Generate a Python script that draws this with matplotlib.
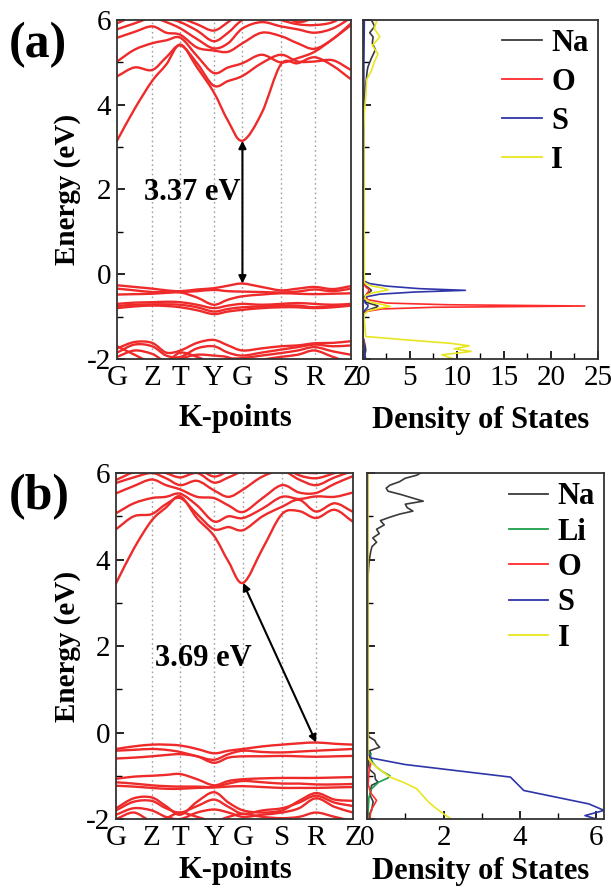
import numpy as np
import matplotlib
matplotlib.use("Agg")
import matplotlib.pyplot as plt
from matplotlib.path import Path
from matplotlib.patches import PathPatch
from matplotlib.ticker import MultipleLocator

plt.rcParams["font.family"] = ["Liberation Serif", "DejaVu Serif"]
plt.rcParams["axes.unicode_minus"] = False

BAND_RED = "#ee2a2a"
COLORS = {"Na": "#3a3a3a", "Li": "#1f9e49", "O": "#ff2b2b", "S": "#2e35a8", "I": "#e8e620"}

# high-symmetry path
K_LABELS = ["G", "Z", "T", "Y", "G", "S", "R", "Z"]
K_NODES = [0.0, 0.150, 0.271, 0.413, 0.536, 0.700, 0.844, 1.0]

# band energies (eV) at each node and the midpoint between nodes
# (a) conduction bands
ca1 = [3.15, 3.90, 4.56, 4.95, 5.42, 4.88, 4.30, 3.62, 3.15, 3.80, 4.95, 4.98, 5.12, 4.92, 4.60]
ca2 = [4.67, 4.88, 4.82, 5.12, 5.40, 4.98, 4.45, 4.56, 4.68, 4.98, 5.18, 5.02, 5.02, 5.05, 4.82]
ca3 = [5.02, 5.30, 5.45, 5.52, 5.58, 5.15, 4.75, 4.88, 4.98, 5.18, 5.00, 5.10, 5.25, 5.55, 5.88]
ca4 = [5.58, 5.72, 5.85, 5.70, 5.65, 5.35, 5.28, 5.25, 5.45, 5.70, 5.62, 5.45, 5.32, 5.55, 5.92]
ca5 = [5.78, 5.92, 6.05, 5.95, 5.80, 5.55, 5.33, 5.45, 5.80, 5.95, 5.85, 5.78, 5.70, 5.80, 6.05]
ca6 = [5.92, 6.10, 6.20, 6.05, 5.95, 5.75, 5.50, 5.70, 6.00, 6.15, 6.00, 5.90, 5.88, 5.95, 6.20]
ca7 = [6.10, 6.25, 6.30, 6.15, 6.05, 5.90, 5.75, 5.95, 6.20, 6.30, 6.15, 5.95, 6.05, 6.15, 6.30]
# (a) valence bands
va1 = [-0.26, -0.30, -0.34, -0.38, -0.40, -0.36, -0.33, -0.27, -0.22, -0.30, -0.38, -0.34, -0.30, -0.35, -0.28]
va2 = [-0.34, -0.38, -0.42, -0.42, -0.42, -0.40, -0.37, -0.40, -0.41, -0.42, -0.43, -0.41, -0.36, -0.40, -0.34]
va3 = [-0.48, -0.47, -0.46, -0.44, -0.43, -0.55, -0.72, -0.60, -0.52, -0.48, -0.45, -0.46, -0.47, -0.46, -0.45]
va4 = [-0.70, -0.67, -0.66, -0.65, -0.66, -0.72, -0.80, -0.74, -0.70, -0.72, -0.70, -0.68, -0.70, -0.72, -0.70]
va5 = [-0.75, -0.72, -0.71, -0.71, -0.72, -0.78, -0.88, -0.82, -0.78, -0.76, -0.74, -0.74, -0.78, -0.75, -0.72]
va6 = [-0.80, -0.76, -0.74, -0.75, -0.78, -0.85, -0.94, -0.88, -0.84, -0.80, -0.78, -0.78, -0.80, -0.78, -0.74]
la1 = [-1.75, -1.60, -1.62, -1.85, -1.80, -1.62, -1.55, -1.68, -1.80, -1.75, -1.70, -1.68, -1.63, -1.62, -1.58]
la2 = [-1.85, -1.66, -1.70, -1.92, -1.95, -1.75, -1.70, -1.85, -1.92, -1.85, -1.78, -1.72, -1.66, -1.70, -1.68]
la3 = [-1.95, -1.80, -1.88, -2.05, -1.85, -1.95, -2.10, -2.00, -1.98, -1.92, -1.86, -1.80, -1.72, -1.82, -1.90]
la4 = [-1.70, -1.90, -2.10, -2.20, -2.00, -1.90, -1.92, -1.96, -2.10, -2.02, -1.95, -1.90, -1.80, -1.95, -2.10]

# (b) conduction bands
cb1 = [3.45, 4.25, 4.90, 5.20, 5.46, 4.95, 4.55, 3.95, 3.46, 4.25, 5.05, 5.12, 4.96, 5.15, 4.87]
cb2 = [4.70, 5.00, 5.05, 5.28, 5.42, 5.05, 4.70, 4.75, 4.68, 5.00, 5.22, 5.38, 5.11, 5.30, 5.10]
cb3 = [5.07, 5.30, 5.42, 5.45, 5.52, 5.25, 4.88, 5.00, 4.96, 5.18, 5.45, 5.40, 5.46, 5.45, 5.55]
cb4 = [5.53, 5.70, 5.85, 5.72, 5.62, 5.45, 5.42, 5.25, 5.10, 5.42, 5.72, 5.55, 5.54, 5.75, 5.93]
cb5 = [5.77, 5.90, 6.00, 5.88, 5.72, 5.82, 5.60, 5.45, 5.62, 5.92, 6.05, 5.85, 5.72, 5.90, 6.05]
cb6 = [5.84, 6.02, 6.10, 6.00, 5.90, 6.00, 5.78, 5.90, 6.05, 6.20, 6.15, 5.95, 5.88, 6.00, 6.15]
cb7 = [6.05, 6.20, 6.25, 6.15, 6.05, 6.10, 5.92, 6.05, 6.20, 6.30, 6.25, 6.05, 6.00, 6.10, 6.25]
# (b) valence bands
vb1 = [-0.38, -0.32, -0.28, -0.28, -0.30, -0.38, -0.48, -0.42, -0.38, -0.32, -0.28, -0.25, -0.23, -0.26, -0.28]
vb2 = [-0.42, -0.40, -0.38, -0.40, -0.45, -0.55, -0.63, -0.50, -0.42, -0.45, -0.46, -0.44, -0.42, -0.40, -0.38]
vb3 = [-0.60, -0.58, -0.55, -0.52, -0.50, -0.55, -0.70, -0.58, -0.55, -0.55, -0.54, -0.55, -0.56, -0.55, -0.54]
vb4 = [-1.07, -1.02, -1.00, -0.98, -0.96, -1.08, -1.22, -1.12, -1.08, -1.06, -1.05, -1.05, -1.05, -1.04, -1.03]
vb5 = [-1.15, -1.18, -1.22, -1.24, -1.25, -1.25, -1.26, -1.18, -1.12, -1.15, -1.18, -1.18, -1.20, -1.20, -1.19]
vb6 = [-1.23, -1.25, -1.28, -1.30, -1.30, -1.28, -1.27, -1.25, -1.24, -1.26, -1.28, -1.28, -1.28, -1.27, -1.26]
lb1 = [-1.75, -1.52, -1.50, -1.70, -1.90, -1.60, -1.38, -1.62, -1.80, -1.85, -1.80, -1.58, -1.40, -1.55, -1.58]
lb2 = [-1.80, -1.60, -1.58, -1.75, -1.85, -1.70, -1.55, -1.72, -1.88, -1.80, -1.75, -1.62, -1.46, -1.62, -1.70]
lb3 = [-1.90, -1.75, -1.80, -1.95, -2.00, -1.85, -1.78, -1.85, -1.95, -1.90, -1.85, -1.75, -1.52, -1.72, -1.85]
lb4 = [-2.00, -1.85, -2.05, -1.98, -1.85, -1.95, -2.05, -1.95, -1.88, -1.95, -1.98, -1.95, -1.85, -1.95, -2.05]

# partial DOS, panel (a): energies (eV) and states
na_a_e = [-2.0, -1.9, -1.8, -1.7, -1.6, -1.5, -0.95, -0.85, -0.78, -0.75, -0.72, -0.66, -0.55, -0.45, -0.41,
          -0.38, -0.34, -0.26, -0.15, 3.4, 3.8, 4.2, 4.4, 4.6, 4.8, 4.9, 5.1, 5.3, 5.45, 5.6, 5.7, 5.85, 6.0]
na_a = [0.3, 0.2, 0.3, 0.25, 0.15, 0.02, 0.05, 0.5, 1.4, 1.6, 1.2, 0.3, 0.1, 0.5, 0.8,
        0.9, 0.7, 0.2, 0.02, 0.03, 0.1, 0.2, 0.25, 0.36, 0.45, 0.54, 0.9, 1.33, 1.0, 1.08, 0.72, 1.25, 0.9]
o_a_e = [-2.0, -1.8, -1.6, -1.5, -0.95, -0.88, -0.82, -0.78, -0.75, -0.72, -0.68, -0.6, -0.5, -0.42, -0.36,
         -0.3, -0.2, 6.0]
o_a = [0.15, 0.1, 0.12, 0.02, 0.05, 0.3, 2.0, 7.5, 23.6, 9.0, 2.5, 0.5, 0.3, 0.55, 0.65, 0.3, 0.03, 0.02]
s_a_e = [-2.0, -1.8, -1.5, -0.95, -0.85, -0.78, -0.73, -0.68, -0.6, -0.53, -0.47, -0.42, -0.38, -0.34, -0.28,
         -0.22, -0.16, 5.0, 6.0]
s_a = [0.2, 0.15, 0.02, 0.02, 0.2, 0.5, 0.55, 0.25, 0.15, 0.4, 1.8, 5.5, 10.9, 6.0, 2.5, 0.7, 0.1, 0.1, 0.15]
i_a_e = [-2.0, -1.95, -1.9, -1.85, -1.82, -1.76, -1.69, -1.63, -1.55, -1.47, -0.95, -0.86, -0.8, -0.76, -0.72,
         -0.66, -0.58, -0.5, -0.44, -0.4, -0.37, -0.33, -0.27, -0.2, 3.4, 3.8, 4.2, 4.6, 4.8, 5.0, 5.2, 5.4,
         5.6, 5.8, 6.0]
i_a = [9.7, 9.0, 8.4, 10.5, 11.5, 9.7, 11.3, 9.3, 4.7, 0.3, 0.1, 0.6, 1.8, 2.9, 2.2,
       0.8, 0.2, 0.3, 1.0, 2.0, 2.7, 2.2, 0.8, 0.15, 0.1, 0.15, 0.3, 0.4, 0.9, 1.2, 1.6, 1.0,
       1.8, 1.2, 1.5]

# partial DOS, panel (b)
na_b_e = [-2.0, -1.9, -1.8, -1.6, -1.45, -1.3, -1.22, -1.15, -1.08, -0.96, -0.85, -0.7, -0.6, -0.5, -0.42,
          -0.34, -0.26, -0.18, -0.1, 0.0, 3.5, 3.8, 4.0, 4.2, 4.3, 4.4, 4.5, 4.6, 4.7, 4.8,
          4.9, 4.98, 5.05, 5.12, 5.2, 5.28, 5.35, 5.42, 5.5, 5.58, 5.65, 5.72, 5.8, 5.88, 5.95, 6.0]
na_b = [0.07, 0.05, 0.12, 0.16, 0.08, 0.1, 0.12, 0.29, 0.22, 0.2, 0.06, 0.04, 0.05, 0.1, 0.07,
        0.33, 0.25, 0.2, 0.05, 0.02, 0.02, 0.04, 0.06, 0.1, 0.13, 0.25, 0.15, 0.32, 0.25, 0.45,
        0.35, 0.6, 0.85, 1.2, 1.05, 1.0, 1.47, 1.2, 0.9, 0.55, 0.5, 0.6, 0.85, 1.0, 1.3, 1.4]
li_b_e = [-2.0, -1.8, -1.5, -1.3, -1.15, -1.05, -1.0, -0.9, -0.8, -0.7, -0.6, -0.5, -0.42, -0.3, 6.0]
li_b = [0.02, 0.03, 0.05, 0.12, 0.3, 0.55, 0.6, 0.4, 0.25, 0.15, 0.1, 0.08, 0.02, 0.01, 0.01]
o_b_e = [-2.0, -1.95, -1.8, -1.65, -1.57, -1.4, -1.2, -0.9, -0.7, -0.6, -0.5, 6.0]
o_b = [0.1, 0.08, 0.1, 0.2, 0.25, 0.1, 0.03, 0.05, 0.1, 0.05, 0.01, 0.01]
s_b_e = [-2.0, -1.92, -1.8, -1.65, -1.34, -1.03, -0.74, -0.59, -0.49, -0.4, 6.0]
s_b = [6.0, 5.7, 6.2, 5.8, 4.1, 3.75, 1.0, 0.11, 0.03, 0.01, 0.01]
i_b_e = [-2.0, -1.88, -1.75, -1.6, -1.5, -1.3, -1.15, -1.03, -0.9, -0.8, -0.7, -0.62, -0.55, 6.0]
i_b = [2.2, 2.0, 1.8, 1.6, 1.5, 1.3, 0.95, 0.6, 0.4, 0.25, 0.12, 0.05, 0.02, 0.02]


def k_samples(nodes):
    pts = []
    for a, b in zip(nodes[:-1], nodes[1:]):
        pts += [a, (a + b) / 2]
    pts.append(nodes[-1])
    return np.array(pts)


def band_path(x, y):
    """Smooth curve through the sampled points (Catmull-Rom as cubic Beziers)."""
    p = np.column_stack([x, y])
    ext = np.vstack([2 * p[0] - p[1], p, 2 * p[-1] - p[-2]])
    verts, codes = [p[0]], [Path.MOVETO]
    for i in range(1, len(ext) - 2):
        c1 = ext[i] + (ext[i + 1] - ext[i - 1]) / 6
        c2 = ext[i + 1] - (ext[i + 2] - ext[i]) / 6
        verts += [c1, c2, ext[i + 1]]
        codes += [Path.CURVE4] * 3
    return Path(verts, codes)


def style_spines(ax):
    for sp in ax.spines.values():
        sp.set_linewidth(1.3)
        sp.set_color("#333333")


def draw_bands(ax, bands):
    ks = k_samples(K_NODES)
    for k in K_NODES[1:-1]:
        ax.axvline(k, color="#a0a0a0", ls=(0, (1.2, 2.2)), lw=1.0, zorder=0)
    for band in bands:
        ax.add_patch(PathPatch(band_path(ks, band), fill=False, edgecolor=BAND_RED,
                               lw=1.7, capstyle="round", zorder=2))
    ax.set_xlim(0, 1)
    ax.set_ylim(-2, 6)
    ax.set_xticks(K_NODES)
    ax.set_xticklabels(K_LABELS)
    ax.tick_params(axis="x", length=0, pad=4, labelsize=21)
    ax.yaxis.set_major_locator(MultipleLocator(2))
    ax.yaxis.set_minor_locator(MultipleLocator(1))
    ax.tick_params(axis="y", which="both", direction="in", labelsize=21, pad=4)
    ax.tick_params(axis="y", which="major", length=6, width=1.2)
    ax.tick_params(axis="y", which="minor", length=4, width=1.0)
    style_spines(ax)


def draw_dos(ax, curves, xmax, xmajor, xminor, legend_spacing):
    for name, e, d in curves:
        ax.plot(d, e, color=COLORS[name], lw=1.2, label=name)
    ax.set_xlim(0, xmax)
    ax.set_ylim(-2, 6)
    ax.xaxis.set_major_locator(MultipleLocator(xmajor))
    ax.xaxis.set_minor_locator(MultipleLocator(xminor))
    ax.yaxis.set_major_locator(MultipleLocator(2))
    ax.yaxis.set_minor_locator(MultipleLocator(1))
    ax.tick_params(axis="both", which="both", direction="in", labelsize=21)
    ax.tick_params(axis="both", which="major", length=6, width=1.2)
    ax.tick_params(axis="both", which="minor", length=4, width=1.0)
    ax.tick_params(axis="y", labelleft=False)
    ax.tick_params(axis="x", pad=4)
    leg = ax.legend(loc="upper right", frameon=False, prop={"weight": "bold", "size": 22},
                    handlelength=1.3, handletextpad=0.3, labelspacing=legend_spacing,
                    borderaxespad=0.05, borderpad=0.25)
    for line in leg.get_lines():
        line.set_linewidth(1.3)
    style_spines(ax)


fig = plt.figure(figsize=(6.11, 8.89), dpi=100)

ax_ba = fig.add_axes([0.1915, 0.5962, 0.383, 0.3813])
ax_da = fig.add_axes([0.594, 0.5962, 0.3846, 0.3813])
ax_bb = fig.add_axes([0.1899, 0.0787, 0.388, 0.3892])
ax_db = fig.add_axes([0.6007, 0.0787, 0.388, 0.3892])

draw_bands(ax_ba, [ca1, ca2, ca3, ca4, ca5, ca6, ca7, va1, va2, va3, va4, va5, va6, la1, la2, la3, la4])
draw_bands(ax_bb, [cb1, cb2, cb3, cb4, cb5, cb6, cb7, vb1, vb2, vb3, vb4, vb5, vb6, lb1, lb2, lb3, lb4])

draw_dos(ax_da, [("Na", na_a_e, na_a), ("O", o_a_e, o_a), ("S", s_a_e, s_a), ("I", i_a_e, i_a)],
         25, 5, 2.5, 0.32)
draw_dos(ax_db, [("Na", na_b_e, na_b), ("Li", li_b_e, li_b), ("O", o_b_e, o_b), ("S", s_b_e, s_b),
                 ("I", i_b_e, i_b)], 6.2, 2, 1, 0.21)

# band-gap arrows: (a) direct at G, (b) indirect R -> G
k_G, k_R = K_NODES[4], K_NODES[6]
arrow = dict(arrowstyle="<|-|>", color="black", lw=1.5, mutation_scale=11, shrinkA=0, shrinkB=0)
ax_ba.annotate("", xy=(k_G, ca1[8]), xytext=(k_G, va1[8]), arrowprops=arrow, zorder=5)
ax_ba.text(0.32, 1.93, "3.37 eV", fontsize=22, fontweight="bold", ha="center", va="center")
ax_bb.annotate("", xy=(k_G, cb1[8]), xytext=(k_R, vb1[12]), arrowprops=arrow, zorder=5)
ax_bb.text(0.367, 1.71, "3.69 eV", fontsize=22, fontweight="bold", ha="center", va="center")

# panel letters and axis titles
fig.text(0.014, 0.949, "(a)", fontsize=36, fontweight="bold", va="center", ha="left")
fig.text(0.014, 0.441, "(b)", fontsize=36, fontweight="bold", va="center", ha="left")
for y in (0.787, 0.273):
    fig.text(0.111, y, "Energy (eV)", fontsize=21, fontweight="bold", rotation=90,
             ha="center", va="center")
fig.text(0.386, 0.529, "K-points", fontsize=22, fontweight="bold", ha="center", va="center")
fig.text(0.786, 0.527, "Density of States", fontsize=22, fontweight="bold", ha="center", va="center")
fig.text(0.386, 0.021, "K-points", fontsize=22, fontweight="bold", ha="center", va="center")
fig.text(0.786, 0.020, "Density of States", fontsize=22, fontweight="bold", ha="center", va="center")

fig.savefig("out.png", dpi=100, facecolor="white")
